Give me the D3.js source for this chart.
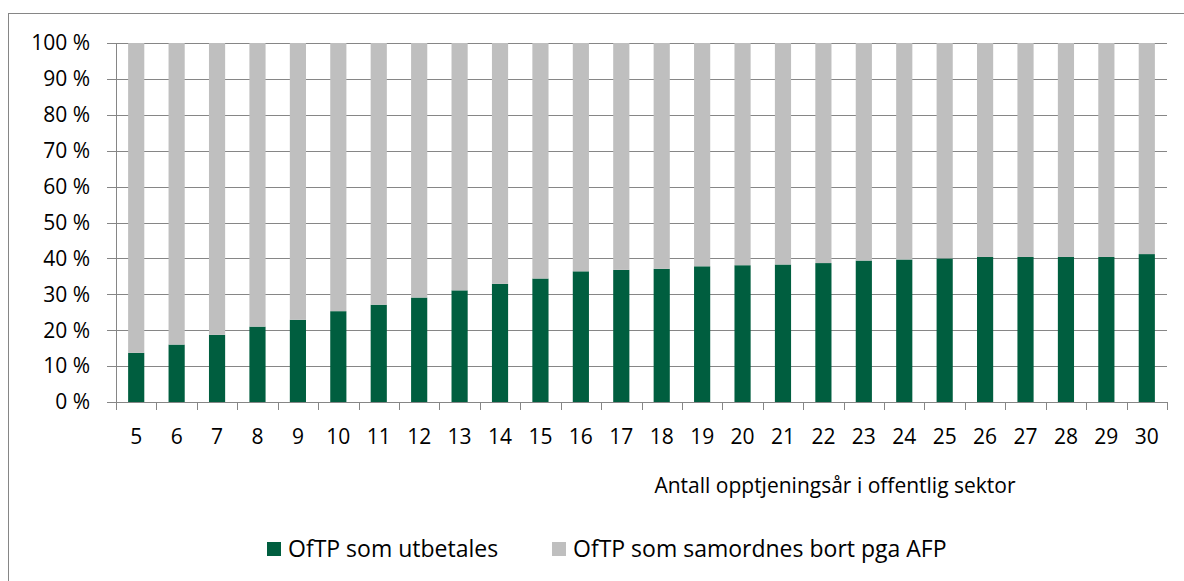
<!DOCTYPE html>
<html>
<head>
<meta charset="utf-8">
<script src="https://cdn.jsdelivr.net/npm/d3@7"></script>
<style>
  body { margin: 0; background: #fff; }
  svg { display: block; }
  text { font-family: "Open Sans", sans-serif; fill: #000; font-size: 21px; }
</style>
</head>
<body>
<svg id="chart"></svg>
<script>
// years of accrual in the public sector
const years = [5, 6, 7, 8, 9, 10, 11, 12, 13, 14, 15, 16, 17, 18, 19, 20, 21, 22, 23, 24, 25, 26, 27, 28, 29, 30];
// share paid out (%)
const paidOut = [13.7, 16.0, 18.7, 21.0, 22.9, 25.3, 27.1, 29.1, 31.1, 32.9, 34.4, 36.4, 36.8, 37.1, 37.8, 38.1, 38.3, 38.7, 39.4, 39.7, 40.0, 40.4, 40.4, 40.4, 40.4, 41.2];
// share coordinated away because of AFP (%)
const coordinated = paidOut.map(v => 100 - v);
const seriesNames = ["OfTP som utbetales", "OfTP som samordnes bort pga AFP"];
const seriesColors = ["#005e3f", "#bfbfbf"];
const yTicks = [0, 10, 20, 30, 40, 50, 60, 70, 80, 90, 100];
const xTitle = "Antall opptjeningsår i offentlig sektor";

const width = 1184, height = 581;
const svg = d3.select("#chart").attr("width", width).attr("height", height);

// outer chart frame
svg.append("rect")
  .attr("x", 8.5).attr("y", 13.5)
  .attr("width", width).attr("height", height)
  .attr("fill", "none").attr("stroke", "#868686");

const pLeft = 116, pRight = 1167, pTop = 43, pBottom = 402;

const x = d3.scaleBand().domain(years).range([pLeft, pRight]).paddingInner(0.6).paddingOuter(0.3);
const y = d3.scaleLinear().domain([0, 100]).range([pBottom, pTop]);

const grid = "#868686";

// gridlines (with left tick stubs)
svg.append("g")
  .selectAll("line")
  .data(yTicks)
  .join("line")
  .attr("x1", pLeft - 9).attr("x2", pRight)
  .attr("y1", d => Math.round(y(d)) + 0.5)
  .attr("y2", d => Math.round(y(d)) + 0.5)
  .attr("stroke", grid);

// y labels
svg.append("g")
  .selectAll("text")
  .data(yTicks)
  .join("text")
  .attr("x", pLeft - 26)
  .attr("y", d => y(d))
  .attr("dy", "0.35em")
  .attr("text-anchor", "end")
  .text(d => d + " %");

// stacked bars
const rows = years.map((yr, i) => ({ year: yr, a: paidOut[i], b: coordinated[i] }));
const stack = d3.stack().keys(["a", "b"])(rows);

svg.append("g")
  .selectAll("g")
  .data(stack)
  .join("g")
  .attr("fill", (d, i) => seriesColors[i])
  .selectAll("rect")
  .data(d => d)
  .join("rect")
  .attr("x", d => x(d.data.year))
  .attr("width", x.bandwidth())
  .attr("y", d => y(d[1]))
  .attr("height", d => y(d[0]) - y(d[1]));

// y axis line
svg.append("line")
  .attr("x1", pLeft + 0.5).attr("x2", pLeft + 0.5)
  .attr("y1", pTop).attr("y2", pBottom)
  .attr("stroke", grid);

// x axis ticks between categories
const bounds = d3.range(years.length + 1).map(i => pLeft + i * (pRight - pLeft) / years.length);
svg.append("g")
  .selectAll("line")
  .data(bounds)
  .join("line")
  .attr("x1", d => Math.round(d) + 0.5).attr("x2", d => Math.round(d) + 0.5)
  .attr("y1", pBottom).attr("y2", pBottom + 8)
  .attr("stroke", grid);

svg.append("g")
  .selectAll("text")
  .data(years)
  .join("text")
  .attr("x", d => x(d) + x.bandwidth() / 2)
  .attr("y", 437)
  .attr("dy", "0.35em")
  .attr("text-anchor", "middle")
  .text(d => d);

// x axis title
svg.append("text")
  .attr("x", 835)
  .attr("y", 486)
  .attr("dy", "0.35em")
  .attr("text-anchor", "middle")
  .text(xTitle);

// legend
const legendX = [267, 552];
const leg = svg.append("g")
  .selectAll("g")
  .data(seriesNames)
  .join("g")
  .attr("transform", (d, i) => `translate(${legendX[i]},549)`);
leg.append("rect")
  .attr("x", 0).attr("y", -7)
  .attr("width", 14).attr("height", 14)
  .attr("fill", (d, i) => seriesColors[i]);
leg.append("text")
  .attr("x", 21)
  .attr("dy", "0.35em")
  .style("font-size", "23px")
  .text(d => d);
</script>
</body>
</html>
